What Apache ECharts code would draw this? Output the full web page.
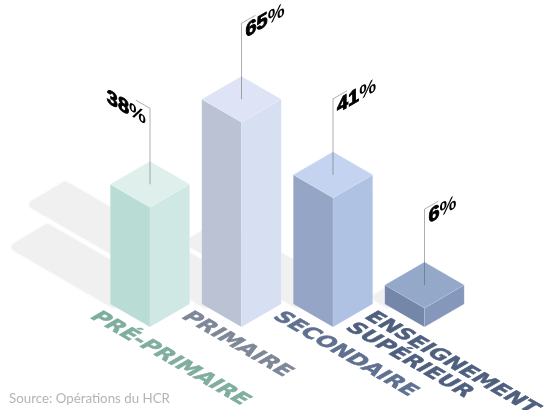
<!DOCTYPE html>
<html><head><meta charset="utf-8">
<style>html,body{margin:0;padding:0;background:#fff}#c{width:546px;height:410px}</style>
<script src="https://cdn.jsdelivr.net/npm/echarts@6/dist/echarts.min.js"></script>
</head><body><div id="c"></div>
<script>
const categories = ['PRÉ-PRIMAIRE', 'PRIMAIRE', 'SECONDAIRE', 'ENSEIGNEMENT\nSUPÉRIEUR'];
const values = [38, 65, 41, 6];
const topColors = ['#dfefeb', '#dee4f5', '#c4d3ef', '#94a9c9'];
const leftColors = ['#b9dcd4', '#bbc2d3', '#95a5c6', '#7487a8'];
const rightColors = ['#d0e8e3', '#d7dff3', '#b0c2e4', '#8598bc'];
const labelColors = ['#7fae9e', '#7d8797', '#5f7090', '#4f607f'];
const sourceText = 'Source: Opérations du HCR';

const HW = 39.7, HH = 23, D = Math.PI / 180;
const chart = echarts.init(document.getElementById('c'), null, {renderer: 'canvas'});
const seriesData = values.map((v, i) => [i, v]);

function shadowItem(params, api) {
  const i = api.value(0), v = api.value(1);
  const b = api.coord([i, 0]), t = api.coord([i, v]);
  const h = b[1] - t[1], dx = -h * 0.866, dy = -h * 0.5, inset = 4;
  const L = [b[0] - HW + inset, b[1] - HH], B = [b[0] - inset, b[1] - 2 * HH + 4];
  return {type: 'polygon',
    shape: {points: [L, B, [B[0] + dx + 5, B[1] + dy + 3], [L[0] + dx + 5, L[1] + dy + 3]]},
    style: {fill: '#f0f0f0', stroke: '#f0f0f0', lineWidth: 8, lineJoin: 'round', shadowBlur: 3, shadowColor: '#f0f0f0'}};
}

function barItem(params, api) {
  const i = api.value(0), v = api.value(1);
  const b = api.coord([i, 0]), t = api.coord([i, v]);
  const x = b[0], by = b[1], ty = t[1];
  const edge = {stroke: 'rgba(255,255,255,0.18)', lineWidth: 0.6};
  return {type: 'group', children: [
    {type: 'polygon', shape: {points: [[x - HW, by - HH], [x, by], [x, ty], [x - HW, ty - HH]]}, style: Object.assign({fill: leftColors[i]}, edge)},
    {type: 'polygon', shape: {points: [[x, by], [x + HW, by - HH], [x + HW, ty - HH], [x, ty]]}, style: Object.assign({fill: rightColors[i]}, edge)},
    {type: 'polygon', shape: {points: [[x - HW, ty - HH], [x, ty], [x + HW, ty - HH], [x, ty - 2 * HH]]}, style: Object.assign({fill: topColors[i]}, edge)}
  ]};
}

function flagItem(params, api) {
  const i = api.value(0), v = api.value(1);
  const b = api.coord([i, 0]), t = api.coord([i, v]);
  const x = b[0], y0 = t[1] - HH, y1 = y0 - 76;
  const leftward = i === 0;
  const tipx = x + (leftward ? -14 : 14), tipy = y1 - 8;
  const num = String(v);
  return {type: 'group', children: [
    {type: 'polyline', shape: {points: [[x, y0], [x, y1], [tipx, tipy]]},
      style: {fill: null, stroke: 'rgba(90,90,90,0.55)', lineWidth: 0.9}},
    {type: 'text', x: leftward ? x - 4 : x + 4, y: y1 + (leftward ? 21 : 19),
      skewY: (leftward ? -30 : 30) * D,
      style: {text: '{a|' + num + '}{b|%}', align: leftward ? 'right' : 'left', verticalAlign: 'bottom',
        rich: {a: {font: 'bold 20px "Liberation Sans"', fill: '#000', stroke: '#000', lineWidth: 0.9},
               b: {font: 'bold 19px "Liberation Sans"', fill: '#000'}}}}
  ]};
}

function labelItem(params, api) {
  const i = api.value(0);
  const b = api.coord([i, 0]);
  return {type: 'text', x: b[0] - 47, y: b[1] - 18,
    skewY: -30 * D, skewX: -60 * D, scaleX: 0.9, scaleY: 0.5,
    style: {text: categories[i], font: 'bold 21px "DejaVu Sans"', fill: labelColors[i], lineHeight: 22,
      stroke: labelColors[i], lineWidth: 0.6,
      align: 'left', verticalAlign: 'top'}};
}

chart.setOption({
  animation: false,
  backgroundColor: '#fff',
  title: {text: sourceText, left: 9, top: 392, padding: 0,
    textStyle: {fontFamily: 'Lato', fontWeight: 'normal', fontSize: 13.3, color: '#b4b4b4'}},
  grid: {left: 104.25, right: 75.75, top: 12, bottom: 83},
  xAxis: {type: 'category', data: categories, show: false},
  yAxis: {type: 'value', min: 0, max: 100, show: false},
  series: [
    {type: 'custom', z: 1, data: seriesData, renderItem: shadowItem, silent: true},
    {type: 'custom', z: 2, data: seriesData, renderItem: barItem, silent: true},
    {type: 'custom', z: 3, data: seriesData, renderItem: flagItem, silent: true},
    {type: 'custom', z: 4, data: seriesData, renderItem: labelItem, silent: true}
  ]
});
</script></body></html>
